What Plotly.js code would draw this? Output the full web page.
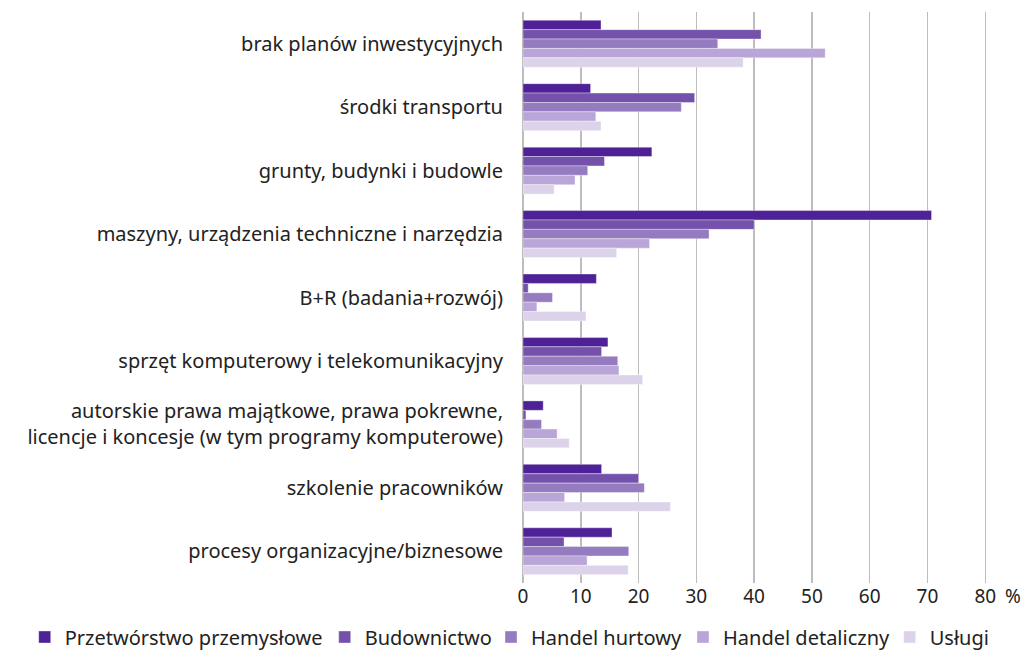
<!DOCTYPE html>
<html>
<head>
<meta charset="utf-8">
<script src="https://cdn.plot.ly/plotly-3.0.1.min.js"></script>
<style>html,body{margin:0;padding:0;background:#fff;}#chart{width:1025px;height:653px;}</style>
</head>
<body>
<div id="chart"></div>
<script>
const categories = [
  "brak planów inwestycyjnych",
  "środki transportu",
  "grunty, budynki i budowle",
  "maszyny, urządzenia techniczne i narzędzia",
  "B+R (badania+rozwój)",
  "sprzęt komputerowy i telekomunikacyjny",
  "autorskie prawa majątkowe, prawa pokrewne,<br>licencje i koncesje (w tym programy komputerowe)",
  "szkolenie pracowników",
  "procesy organizacyjne/biznesowe"
];
const seriesNames = ["Przetwórstwo przemysłowe", "Budownictwo", "Handel hurtowy", "Handel detaliczny", "Usługi"];
const przetworstwo = [13.5, 11.7, 22.3, 70.7, 12.7, 14.7, 3.5, 13.6, 15.4];
const budownictwo  = [41.2, 29.7, 14.1, 40.0, 0.9, 13.6, 0.5, 20.0, 7.1];
const hurtowy      = [33.7, 27.4, 11.2, 32.2, 5.1, 16.4, 3.2, 21.0, 18.3];
const detaliczny   = [52.3, 12.6, 9.0, 21.9, 2.4, 16.6, 5.9, 7.2, 11.1];
const uslugi       = [38.1, 13.5, 5.4, 16.2, 10.9, 20.7, 8.0, 25.5, 18.2];
const tickVals = [0, 10, 20, 30, 40, 50, 60, 70, 80];
const tickText = ["0", "10", "20", "30", "40", "50", "60", "70", "80"];
const colors = ["#4f2196", "#7452ab", "#957bbf", "#b9a5d7", "#dcd3ea"];

const W = 1025, H = 653;
const M = {l: 523, r: 38, t: 12, b: 70};
const plotW = W - M.l - M.r, plotH = H - M.t - M.b;
// legend text start positions (px) for each entry
const legendTextPx = [66.7, 366.7, 533, 725, 931.7];
const legendNames = ["legend", "legend2", "legend3", "legend4", "legend5"];

const values = [przetworstwo, budownictwo, hurtowy, detaliczny, uslugi];
const traces = values.map((v, i) => ({
  type: "bar",
  orientation: "h",
  name: seriesNames[i],
  x: v,
  y: categories,
  legend: legendNames[i],
  marker: {color: colors[i], line: {color: "rgba(255,255,255,0.6)", width: 0.6}},
  hoverinfo: "x+name"
}));

const font = "Noto Sans, sans-serif";
const layout = {
  width: W, height: H,
  margin: M,
  paper_bgcolor: "#fff", plot_bgcolor: "#fff",
  barmode: "group",
  bargap: 0.26,
  bargroupgap: 0,
  font: {family: font, size: 20, color: "#222"},
  xaxis: {
    range: [0, 80.3],
    tickvals: tickVals, ticktext: tickText,
    showgrid: true, gridcolor: "#bdbdbd", gridwidth: 1.5,
    zeroline: true, zerolinecolor: "#bdbdbd", zerolinewidth: 1.5,
    ticks: "",
    ticklabelstandoff: 0,
    showline: false,
    tickfont: {family: font, size: 19, color: "#222"}
  },
  yaxis: {
    autorange: "reversed",
    showgrid: false, zeroline: false, showline: false,
    ticks: "", ticklabelstandoff: 19,
    tickfont: {family: font, size: 20, color: "#222"}
  },
  showlegend: true,
  annotations: [{
    text: "%", xref: "paper", yref: "paper", x: (1003 - M.l) / plotW, y: 0, xanchor: "left", yanchor: "middle",
    yshift: -13, showarrow: false, font: {family: font, size: 19, color: "#222"}
  }]
};
legendNames.forEach((ln, i) => {
  layout[ln] = {
    x: (legendTextPx[i] - 42) / W,
    xref: "container",
    y: (H - 637) / H,
    yref: "container",
    xanchor: "left", yanchor: "middle",
    orientation: "h",
    bgcolor: "rgba(0,0,0,0)",
    font: {family: font, size: 20, color: "#222"},
    itemwidth: 30
  };
});
Plotly.newPlot("chart", traces, layout, {displayModeBar: false, staticPlot: true});
</script>
</body>
</html>
